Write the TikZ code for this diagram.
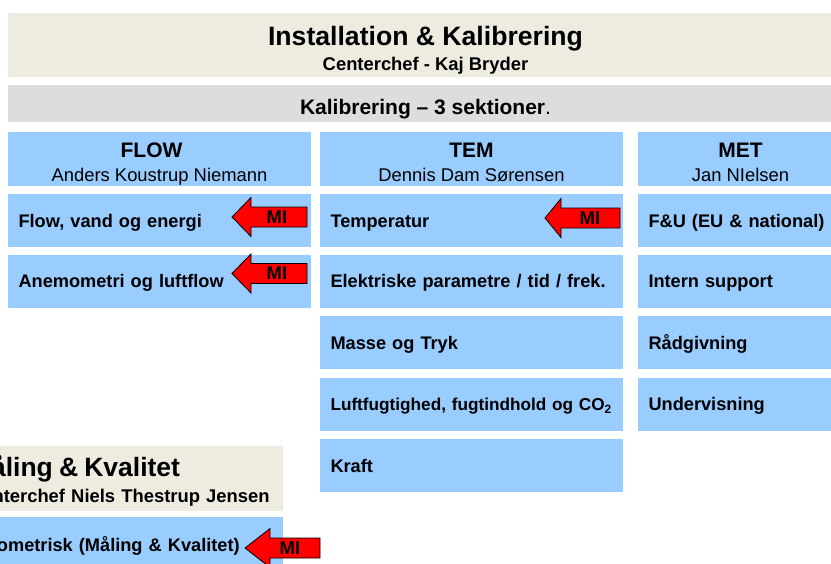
\documentclass[tikz,border=0pt]{standalone}
\usepackage{fontspec}
\setmainfont{Liberation Sans}
\definecolor{boxblue}{HTML}{99CCFF}
\definecolor{boxbeige}{HTML}{EEECE1}
\definecolor{boxgray}{HTML}{DDDDDD}
\begin{document}
\begin{tikzpicture}[x=1pt,y=-1pt,
  every node/.style={inner sep=0pt,text=black},
  banner/.style={fill=boxbeige,minimum height=64,align=center,font=\bfseries\fontsize{18.4}{25}\selectfont},
  head/.style={fill=boxblue,minimum width=303,minimum height=54,align=center,font=\fontsize{18.4}{24}\selectfont},
  item/.style={fill=boxblue,minimum height=53,text width=282,inner xsep=10.5,align=left,
    text height=13pt,text depth=0pt,font=\bfseries\fontsize{18.2}{22}\selectfont},
  miarrow/.style={draw=black,line width=0.8,fill=red},
  mitext/.style={font=\bfseries\fontsize{18.5}{18}\selectfont}]
  \useasboundingbox (0,0) rectangle (831,563);
  \clip (0,0) rectangle (831,563);
  \node[banner,minimum width=835] (inst) at (425.5,45)
    {{\fontsize{26.6}{28}\selectfont\rule{0pt}{32pt}Installation \& Kalibrering}\\Centerchef - Kaj Bryder\rule[-7pt]{0pt}{7pt}};
  \node[fill=boxgray,minimum width=835,minimum height=37,text height=22.4pt,text depth=0pt,
    font=\fontsize{21}{24}\selectfont] (kal) at (425.5,103.5) {\textbf{Kalibrering – 3 sektioner}.};
  % de tre sektioner
  \node[head] (flow) at (159.5,159)
    {{\bfseries\fontsize{21}{22}\selectfont\rule{0pt}{25pt}FLOW\hspace*{16pt}}\\Anders Koustrup Niemann\rule[-5pt]{0pt}{5pt}};
  \node[head] (tem) at (471.5,159)
    {{\bfseries\fontsize{21}{22}\selectfont\rule{0pt}{25pt}TEM}\\Dennis Dam Sørensen\rule[-5pt]{0pt}{5pt}};
  \node[head,minimum width=205] (met) at (740.5,159)
    {{\bfseries\fontsize{21}{22}\selectfont\rule{0pt}{25pt}MET}\\Jan NIelsen\rule[-5pt]{0pt}{5pt}};
  \node[item] (flow1) at (159.5,220.5) {Flow, vand og energi};
  \node[item] (flow2) at (159.5,281) {Anemometri og luftflow};
  \node[item] (tem1) at (471.5,220.5) {Temperatur};
  \node[item] (tem2) at (471.5,281) {Elektriske parametre / tid / frek.};
  \node[item] (tem3) at (471.5,342.5) {Masse og Tryk};
  \node[item,font=\bfseries\fontsize{17.2}{20}\selectfont] (tem4) at (471.5,404)
    {\mbox{Luftfugtighed, fugtindhold og CO\textsubscript{2}}};
  \node[item] (tem5) at (471.5,465.5) {Kraft};
  \node[item,text width=184] (met1) at (740.5,220.5) {F\&U (EU \& national)};
  \node[item,text width=184] (met2) at (740.5,281) {Intern support};
  \node[item,text width=184] (met3) at (740.5,342.5) {Rådgivning};
  \node[item,text width=184] (met4) at (740.5,404) {Undervisning};
  \node[banner,minimum width=318,minimum height=65,text width=310,inner xsep=4,align=left,
    font=\bfseries\fontsize{18.4}{26}\selectfont] (mk) at (124,478.5)
    {{\fontsize{26.5}{28}\selectfont\rule{0pt}{30pt}Måling \& Kvalitet}\\Centerchef Niels Thestrup Jensen\rule[-9pt]{0pt}{9pt}};
  \node[item,minimum height=56,text width=254,inner xsep=32] (mk1) at (124,545) {ometrisk (Måling \& Kvalitet)};
  \foreach \tx/\ty/\hl [count=\i] in {232/217/19, 232/273.5/19, 545/218/16, 245/548/25} {
    \draw[miarrow] (\tx,\ty) -- (\tx+\hl,\ty-19.5) -- (\tx+\hl,\ty-10) -- (\tx+75,\ty-10)
      -- (\tx+75,\ty+10) -- (\tx+\hl,\ty+10) -- (\tx+\hl,\ty+19.5) -- cycle;
    \node[mitext] (mi\i) at (\tx+45,\ty) {MI};
  }
\end{tikzpicture}
\end{document}
